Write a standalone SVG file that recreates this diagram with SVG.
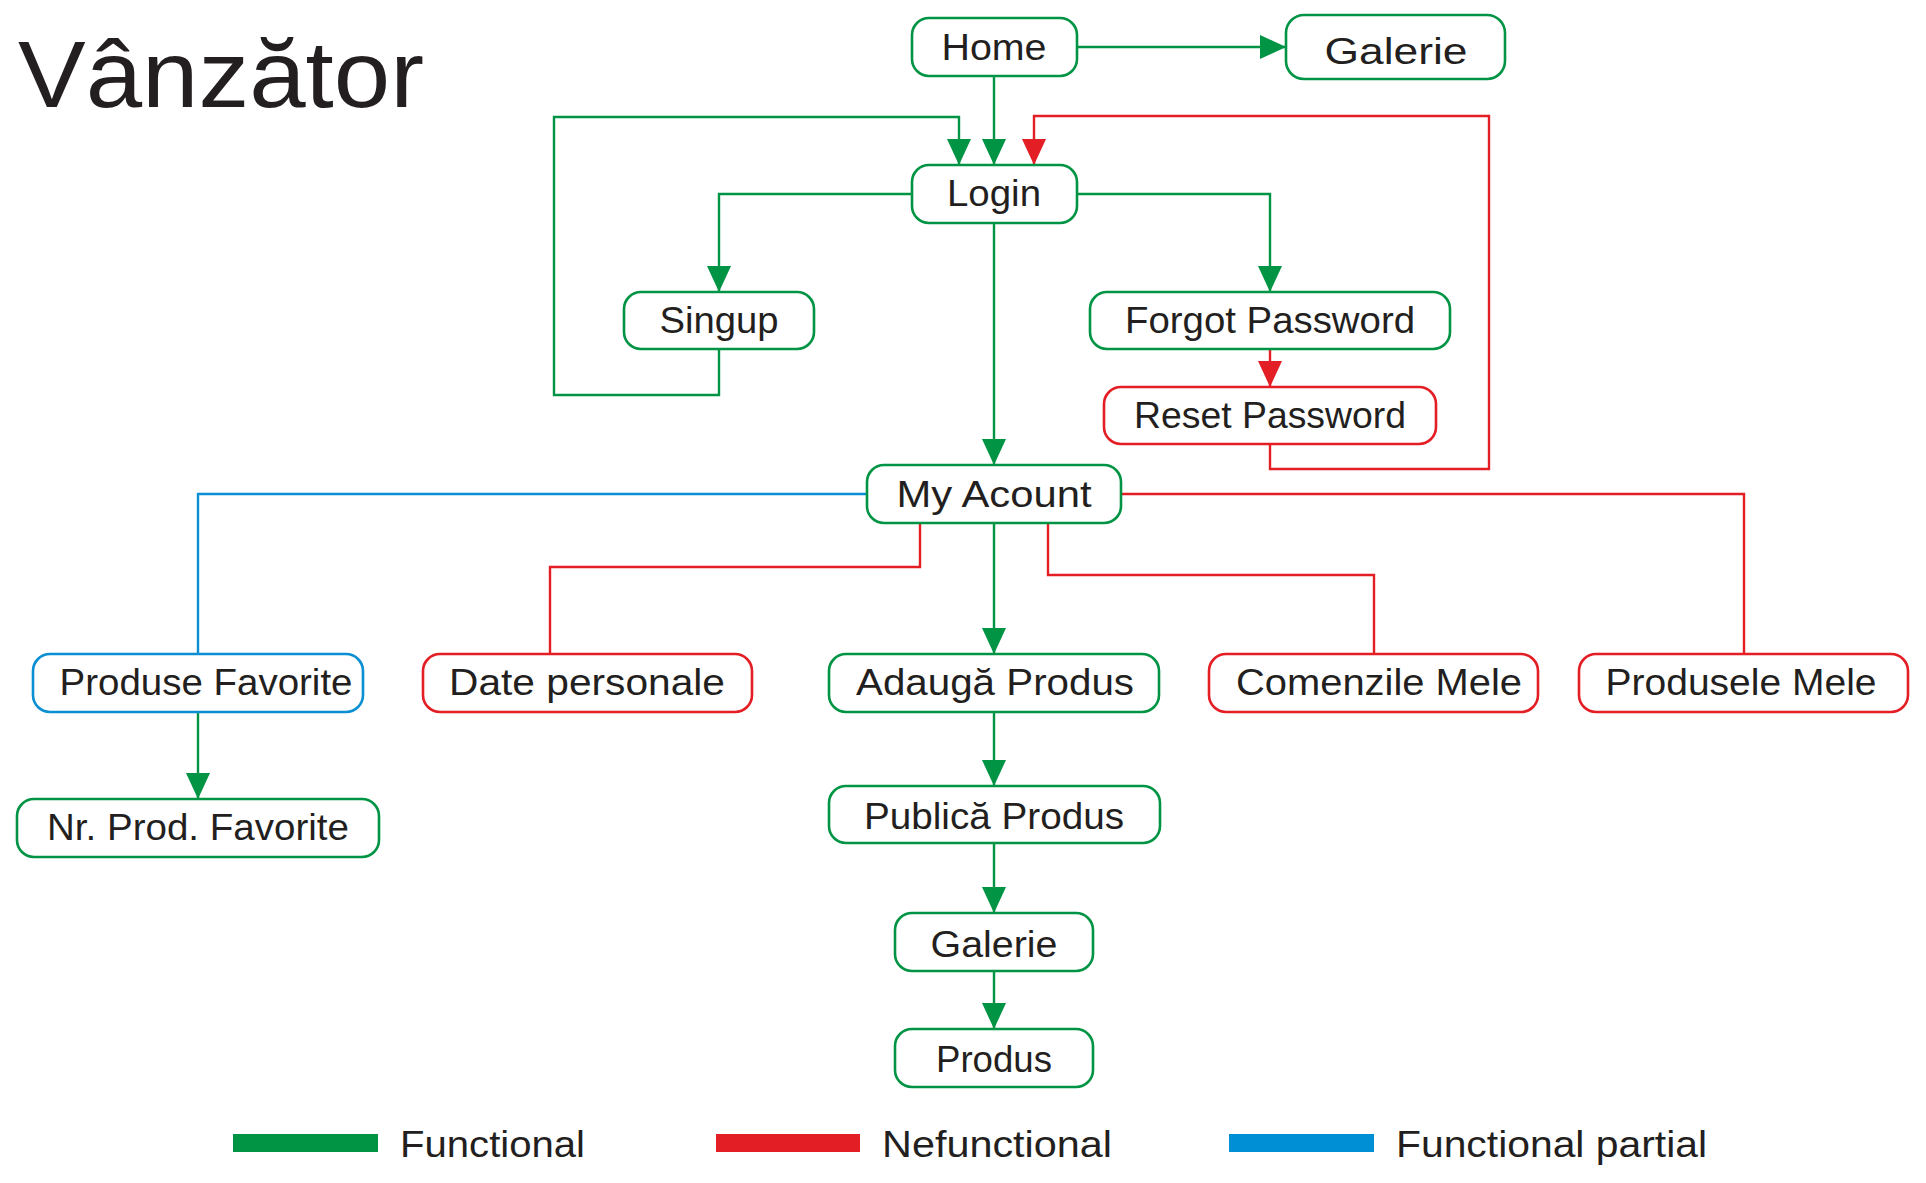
<svg xmlns="http://www.w3.org/2000/svg" width="1926" height="1183" viewBox="0 0 1926 1183">
<style>
  .bg { fill: #ffffff; }
  .box { fill: #ffffff; stroke-width: 2.6; }
  .g { stroke: #009444; }
  .r { stroke: #e31e24; }
  .b { stroke: #0a8fd2; }
  .ln { fill: none; stroke-width: 2.4; }
  .t { font-family: "Liberation Sans", Arial, sans-serif; font-size: 36px; fill: #231f20; text-anchor: middle; }
  .lt { font-family: "Liberation Sans", Arial, sans-serif; font-size: 36px; fill: #231f20; }
</style>
<defs>
  <marker id="ag" markerUnits="userSpaceOnUse" markerWidth="26" markerHeight="24" refX="26" refY="12" orient="auto">
    <path d="M0,0 L26,12 L0,24 Z" fill="#009444"/>
  </marker>
  <marker id="ar" markerUnits="userSpaceOnUse" markerWidth="26" markerHeight="24" refX="26" refY="12" orient="auto">
    <path d="M0,0 L26,12 L0,24 Z" fill="#e31e24"/>
  </marker>
</defs>
<rect class="bg" x="0" y="0" width="1926" height="1183"/>

<text id="title" x="18" y="107" font-family="'Liberation Sans', Arial, sans-serif" font-size="94" fill="#231f20" textLength="406" lengthAdjust="spacingAndGlyphs">Vânzător</text>

<g id="connectors">
  <path class="ln g" d="M1077,47 H1286" marker-end="url(#ag)"/>
  <path class="ln g" d="M994,76 V165" marker-end="url(#ag)"/>
  <path class="ln g" d="M719,349 V395 H554 V117 H959 V165" marker-end="url(#ag)"/>
  <path class="ln g" d="M912,194 H719 V292" marker-end="url(#ag)"/>
  <path class="ln g" d="M1077,194 H1270 V292" marker-end="url(#ag)"/>
  <path class="ln g" d="M994,223 V465" marker-end="url(#ag)"/>
  <path class="ln g" d="M994,523 V654" marker-end="url(#ag)"/>
  <path class="ln g" d="M198,712 V799" marker-end="url(#ag)"/>
  <path class="ln g" d="M994,712 V786" marker-end="url(#ag)"/>
  <path class="ln g" d="M994,843 V913" marker-end="url(#ag)"/>
  <path class="ln g" d="M994,971 V1029" marker-end="url(#ag)"/>
  <path class="ln r" d="M1270,349 V387" marker-end="url(#ar)"/>
  <path class="ln r" d="M1270,444 V469 H1489 V116 H1034 V165" marker-end="url(#ar)"/>
  <path class="ln r" d="M920,523 V567 H550 V654"/>
  <path class="ln r" d="M1048,523 V575 H1374 V654"/>
  <path class="ln r" d="M1121,494 H1744 V654"/>
  <path class="ln b" d="M867,494 H198 V654"/>
</g>

<g id="home">
  <rect class="box g" x="912" y="18" width="165" height="58" rx="17"/>
  <text class="t" x="994" y="60" textLength="105" lengthAdjust="spacingAndGlyphs">Home</text>
</g>
<g id="galerie-top">
  <rect class="box g" x="1286" y="15" width="219" height="64" rx="18"/>
  <text class="t" x="1396" y="64" font-size="40" textLength="143" lengthAdjust="spacingAndGlyphs">Galerie</text>
</g>
<g id="login">
  <rect class="box g" x="912" y="165" width="165" height="58" rx="17"/>
  <text class="t" x="994" y="206" textLength="94" lengthAdjust="spacingAndGlyphs">Login</text>
</g>
<g id="singup">
  <rect class="box g" x="624" y="292" width="190" height="57" rx="17"/>
  <text class="t" x="719" y="333" textLength="119" lengthAdjust="spacingAndGlyphs">Singup</text>
</g>
<g id="forgot-password">
  <rect class="box g" x="1090" y="292" width="360" height="57" rx="17"/>
  <text class="t" x="1270" y="333" textLength="290" lengthAdjust="spacingAndGlyphs">Forgot Password</text>
</g>
<g id="reset-password">
  <rect class="box r" x="1104" y="387" width="332" height="57" rx="17"/>
  <text class="t" x="1270" y="428" textLength="272" lengthAdjust="spacingAndGlyphs">Reset Password</text>
</g>
<g id="my-acount">
  <rect class="box g" x="867" y="465" width="254" height="58" rx="17"/>
  <text class="t" x="994" y="507" textLength="195" lengthAdjust="spacingAndGlyphs">My Acount</text>
</g>
<g id="produse-favorite">
  <rect class="box b" x="33" y="654" width="330" height="58" rx="17"/>
  <text class="t" x="206" y="695" textLength="293" lengthAdjust="spacingAndGlyphs">Produse Favorite</text>
</g>
<g id="date-personale">
  <rect class="box r" x="423" y="654" width="329" height="58" rx="17"/>
  <text class="t" x="587" y="695" textLength="276" lengthAdjust="spacingAndGlyphs">Date personale</text>
</g>
<g id="adauga-produs">
  <rect class="box g" x="829" y="654" width="330" height="58" rx="17"/>
  <text class="t" x="995" y="695" textLength="278" lengthAdjust="spacingAndGlyphs">Adaugă Produs</text>
</g>
<g id="comenzile-mele">
  <rect class="box r" x="1209" y="654" width="329" height="58" rx="17"/>
  <text class="t" x="1379" y="695" textLength="286" lengthAdjust="spacingAndGlyphs">Comenzile Mele</text>
</g>
<g id="produsele-mele">
  <rect class="box r" x="1579" y="654" width="329" height="58" rx="17"/>
  <text class="t" x="1741" y="695" textLength="271" lengthAdjust="spacingAndGlyphs">Produsele Mele</text>
</g>
<g id="nr-prod-favorite">
  <rect class="box g" x="17" y="799" width="362" height="58" rx="17"/>
  <text class="t" x="198" y="840" textLength="302" lengthAdjust="spacingAndGlyphs">Nr. Prod. Favorite</text>
</g>
<g id="publica-produs">
  <rect class="box g" x="829" y="786" width="331" height="57" rx="17"/>
  <text class="t" x="994" y="829" textLength="260" lengthAdjust="spacingAndGlyphs">Publică Produs</text>
</g>
<g id="galerie-bottom">
  <rect class="box g" x="895" y="913" width="198" height="58" rx="17"/>
  <text class="t" x="994" y="957" textLength="127" lengthAdjust="spacingAndGlyphs">Galerie</text>
</g>
<g id="produs">
  <rect class="box g" x="895" y="1029" width="198" height="58" rx="17"/>
  <text class="t" x="994" y="1072" textLength="116" lengthAdjust="spacingAndGlyphs">Produs</text>
</g>

<g id="legend">
  <rect x="233" y="1134" width="145" height="18" fill="#009444"/>
  <text class="lt" x="400" y="1157" textLength="185" lengthAdjust="spacingAndGlyphs">Functional</text>
  <rect x="716" y="1134" width="144" height="18" fill="#e31e24"/>
  <text class="lt" x="882" y="1157" textLength="230" lengthAdjust="spacingAndGlyphs">Nefunctional</text>
  <rect x="1229" y="1134" width="145" height="18" fill="#008fd5"/>
  <text class="lt" x="1396" y="1157" textLength="311" lengthAdjust="spacingAndGlyphs">Functional partial</text>
</g>
</svg>
